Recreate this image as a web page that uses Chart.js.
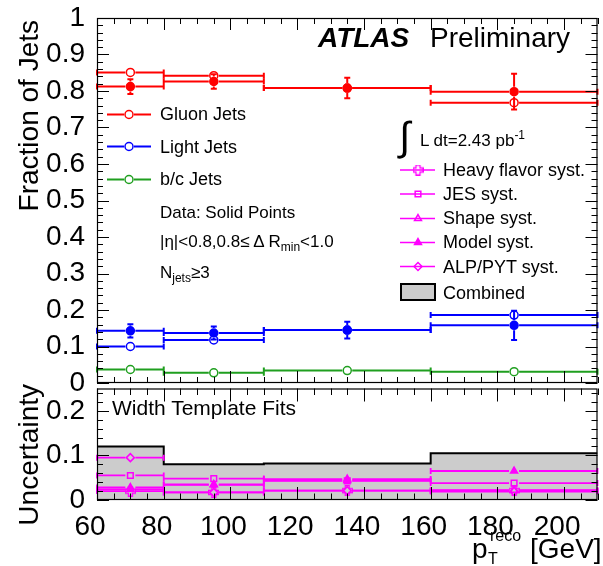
<!DOCTYPE html>
<html>
<head>
<meta charset="utf-8">
<script src="https://cdn.jsdelivr.net/npm/chart.js@4/dist/chart.umd.min.js"></script>
<style>
  body { margin: 0; background: #fff; }
  #wrap { position: relative; width: 603px; height: 566px; overflow: hidden; font-family: 'Liberation Sans', Arial, sans-serif; color: #000; }
  canvas { position: absolute; left: 0; }
  #top { top: 0; }
  #bottom { top: 383px; }
  .t { position: absolute; white-space: nowrap; line-height: 1; }
  .s18 { font-size: 18px; line-height: 18px; }
  .rot { transform-origin: 0 0; transform: rotate(-90deg); width: 220px; text-align: right; font-size: 28px; line-height: 28px; }
  sub, sup { font-size: 12px; line-height: 0; }
</style>
</head>
<body>
<div id="wrap">
  <canvas id="top" width="603" height="400"></canvas>
  <canvas id="bottom" width="603" height="183"></canvas>

  <div class="t rot" style="left:15px;top:240px">Fraction of Jets</div>
  <div class="t rot" style="left:15px;top:604px">Uncertainty</div>

  <div class="t" style="left:318px;top:24px;font:italic bold 28px 'Liberation Sans';line-height:28px">ATLAS</div>
  <div class="t" style="left:430px;top:24px;font-size:28px;line-height:28px">Preliminary</div>

  <div class="t s18" style="left:160px;top:105px">Gluon Jets</div>
  <div class="t s18" style="left:160px;top:138px">Light Jets</div>
  <div class="t s18" style="left:160px;top:170px">b/c Jets</div>
  <div class="t" style="left:160px;top:204px;font-size:17px;line-height:17px">Data: Solid Points</div>
  <div class="t" style="left:160px;top:233px;font-size:17px;line-height:17px">|η|&lt;0.8,0.8≤ Δ R<sub>min</sub>&lt;1.0</div>
  <div class="t" style="left:160px;top:264px;font-size:17px;line-height:17px">N<sub>jets</sub>≥3</div>

  <div class="t" style="left:399px;top:116px;font-size:40px;line-height:40px">∫</div>
  <div class="t" style="left:420px;top:132px;font-size:17px;line-height:17px">L dt=2.43 pb<sup>-1</sup></div>
  <div class="t s18" style="left:443px;top:161px">Heavy flavor syst.</div>
  <div class="t s18" style="left:443px;top:185px">JES syst.</div>
  <div class="t s18" style="left:443px;top:209px">Shape syst.</div>
  <div class="t s18" style="left:443px;top:233px">Model syst.</div>
  <div class="t s18" style="left:443px;top:258px">ALP/PYT syst.</div>
  <div class="t s18" style="left:443px;top:284px">Combined</div>

  <div class="t" style="left:112px;top:397px;font-size:21px;line-height:21px">Width Template Fits</div>

  <div class="t" style="left:472px;top:535px;font-size:28px;line-height:28px">p</div>
  <div class="t" style="left:490px;top:528px;font-size:16px;line-height:16px">reco</div>
  <div class="t" style="left:488px;top:551px;font-size:16px;line-height:16px">T</div>
  <div class="t" style="left:530px;top:535px;font-size:28px;line-height:28px">[GeV]</div>
</div>
<script>
// pT bins
var binLow = [60, 80, 110, 160];
var binHigh = [80, 110, 160, 210];
var binCentre = [70, 95, 135, 185];

// fractions, solid = data, open = MC
var gluonData = [0.812, 0.826, 0.808, 0.798];
var gluonDataErr = [0.02, 0.02, 0.028, 0.049];
var gluonMC = [0.851, 0.842, 0.808, 0.768];
var lightData = [0.143, 0.137, 0.145, 0.158];
var lightDataErr = [0.018, 0.018, 0.023, 0.04];
var lightMC = [0.100, 0.118, 0.145, 0.186];
var bcMC = [0.037, 0.028, 0.034, 0.031];

// uncertainties (bottom pad)
var heavyFlavorSyst = [0.020, 0.017, 0.021, 0.021];
var jesSyst = [0.055, 0.048, 0.043, 0.038];
var shapeSyst = [0.028, 0.035, 0.047, 0.022];
var modelSyst = [0.024, 0.034, 0.044, 0.065];
var alpPytSyst = [0.095, 0.017, 0.021, 0.019];
var combinedSyst = [0.120, 0.080, 0.082, 0.105];

var RED = '#ff0000', BLUE = '#0000ff', GREEN = '#1f9f1f', MAG = '#ff00ff';

Chart.defaults.font.family = "'Liberation Sans', Arial, sans-serif";
Chart.defaults.color = '#000';

// open cross marker (ROOT style 28)
function openCross(col) {
  var c = document.createElement('canvas');
  c.width = 11; c.height = 11;
  var g = c.getContext('2d');
  g.strokeStyle = col; g.lineWidth = 1.3;
  g.beginPath();
  var p = [[3.5,0.5],[7.5,0.5],[7.5,3.5],[10.5,3.5],[10.5,7.5],[7.5,7.5],[7.5,10.5],[3.5,10.5],[3.5,7.5],[0.5,7.5],[0.5,3.5],[3.5,3.5]];
  g.moveTo(p[0][0], p[0][1]);
  p.forEach(function(q){ g.lineTo(q[0], q[1]); });
  g.closePath(); g.stroke();
  return c;
}
var crossMarker = openCross(MAG);

function series(values, col, filled, style, errs, width, order) {
  return {
    data: binCentre.map(function(x, i){ return {x: x, y: values[i]}; }),
    pointStyle: style,
    pointRadius: 4, pointHoverRadius: 4,
    borderColor: col,
    backgroundColor: filled ? col : 'rgba(0,0,0,0)',
    pointBorderWidth: 1.5,
    binned: true, errY: errs, barWidth: width, order: order
  };
}

// horizontal bin bars + vertical stat errors, drawn through the scales
var errorBars = {
  id: 'errorBars',
  afterDatasetDraw: function(chart, args) {
    var ds = chart.data.datasets[args.index];
    if (!ds.binned) return;
    var ctx = chart.ctx, xs = chart.scales.x, ys = chart.scales.y;
    var r = ds.pointRadius + 1;
    ctx.save();
    ctx.strokeStyle = ds.borderColor;
    ctx.lineWidth = ds.barWidth;
    ctx.beginPath();
    args.meta.data.forEach(function(pt, i){
      var x0 = xs.getPixelForValue(binLow[i]), x1 = xs.getPixelForValue(binHigh[i]);
      var y = pt.y;
      ctx.moveTo(x0, y); ctx.lineTo(pt.x - r, y);
      ctx.moveTo(pt.x + r, y); ctx.lineTo(x1, y);
      ctx.moveTo(x0, y - 3); ctx.lineTo(x0, y + 3);
      ctx.moveTo(x1, y - 3); ctx.lineTo(x1, y + 3);
      if (ds.errY) {
        var yt = ys.getPixelForValue(ds.data[i].y + ds.errY[i]);
        var yb = ys.getPixelForValue(ds.data[i].y - ds.errY[i]);
        ctx.moveTo(pt.x, yt); ctx.lineTo(pt.x, y - r);
        ctx.moveTo(pt.x, y + r); ctx.lineTo(pt.x, yb);
        ctx.moveTo(pt.x - 3, yt); ctx.lineTo(pt.x + 3, yt);
        ctx.moveTo(pt.x - 3, yb); ctx.lineTo(pt.x + 3, yb);
      }
    });
    ctx.stroke();
    ctx.restore();
  }
};

// frame with inward ticks on all four sides
var frameTicks = {
  id: 'frameTicks',
  afterDraw: function(chart, args, o) {
    var ctx = chart.ctx, a = chart.chartArea, xs = chart.scales.x, ys = chart.scales.y;
    ctx.save();
    ctx.strokeStyle = '#000'; ctx.lineWidth = 1;
    ctx.beginPath();
    var v, k, px, len;
    for (k = 0; xs.min + k * o.xMinor <= xs.max + 1e-9; k++) {
      v = xs.min + k * o.xMinor;
      px = Math.round(xs.getPixelForValue(v)) + 0.5;
      len = (k % o.xEvery === 0) ? o.xLen : o.xLen / 2;
      ctx.moveTo(px, a.bottom); ctx.lineTo(px, a.bottom - len);
      ctx.moveTo(px, a.top); ctx.lineTo(px, a.top + len);
    }
    for (k = 0; ys.min + k * o.yMinor <= ys.max + 1e-9; k++) {
      v = ys.min + k * o.yMinor;
      px = Math.round(ys.getPixelForValue(v)) + 0.5;
      len = (k % o.yEvery === 0) ? o.yLen : o.yLen / 2;
      ctx.moveTo(a.left, px); ctx.lineTo(a.left + len, px);
      ctx.moveTo(a.right, px); ctx.lineTo(a.right - len, px);
    }
    ctx.stroke();
    ctx.lineWidth = 1.2;
    ctx.strokeRect(a.left + 0.5, a.top + 0.5, a.right - a.left - 1, a.bottom - a.top - 1);
    ctx.restore();
  }
};

// legend symbols (text is in the page)
function mark(ctx, style, col, filled, x, y) {
  ctx.save();
  ctx.strokeStyle = col; ctx.fillStyle = filled ? col : 'rgba(0,0,0,0)';
  ctx.lineWidth = 1.5;
  Chart.helpers.drawPoint(ctx, {pointStyle: style, radius: 4, borderWidth: 1.5, rotation: 0}, x, y);
  ctx.restore();
}
var legendMarks = {
  id: 'legendMarks',
  afterDraw: function(chart) {
    var ctx = chart.ctx;
    ctx.save();
    [[RED, 114.5], [BLUE, 146.5], [GREEN, 179.5]].forEach(function(e){
      ctx.strokeStyle = e[0]; ctx.lineWidth = 2;
      ctx.beginPath(); ctx.moveTo(107, e[1]); ctx.lineTo(124, e[1]); ctx.moveTo(134, e[1]); ctx.lineTo(151, e[1]); ctx.stroke();
      mark(ctx, 'circle', e[0], false, 129, e[1]);
    });
    [[crossMarker, false, 170], ['rect', false, 194], ['triangle', false, 218.5], ['triangle', true, 242.5], ['rectRot', false, 266.5]].forEach(function(e){
      ctx.strokeStyle = MAG; ctx.lineWidth = 1.5;
      ctx.beginPath(); ctx.moveTo(400, e[2]); ctx.lineTo(435, e[2]); ctx.stroke();
      mark(ctx, e[0], MAG, e[1], 418, e[2]);
    });
    ctx.fillStyle = '#cccccc'; ctx.strokeStyle = '#000'; ctx.lineWidth = 2;
    ctx.fillRect(401, 284, 34, 16); ctx.strokeRect(401, 284, 34, 16);
    ctx.restore();
  }
};

function fixWidth(w) { return function(s){ s.width = w; s.paddingTop = 0; s.paddingBottom = 0; }; }
function shortLabel(v) { return String(Math.round(v * 10) / 10); }

new Chart(document.getElementById('top'), {
  type: 'scatter',
  data: {
    datasets: [
      series(gluonData, RED, true, 'circle', gluonDataErr, 2, 1),
      series(lightData, BLUE, true, 'circle', lightDataErr, 2, 1),
      series(gluonMC, RED, false, 'circle', null, 2, 2),
      series(lightMC, BLUE, false, 'circle', null, 2, 2),
      series(bcMC, GREEN, false, 'circle', null, 2, 2)
    ]
  },
  options: {
    responsive: false, animation: false, events: [],
    layout: { padding: { left: 0, right: 2, top: 18, bottom: 17 } },
    plugins: { legend: { display: false }, tooltip: { enabled: false },
      frameTicks: { xMinor: 5, xEvery: 4, xLen: 12, yMinor: 0.02, yEvery: 5, yLen: 12 } },
    scales: {
      x: { type: 'linear', min: 60, max: 210, display: false },
      y: { min: 0, max: 1, afterFit: fixWidth(97),
        grid: { display: false }, border: { display: false },
        ticks: { stepSize: 0.1, autoSkip: false, padding: 4, font: { size: 28 }, callback: shortLabel } }
    }
  },
  plugins: [errorBars, frameTicks, legendMarks]
});

var stepData = binLow.map(function(x, i){ return {x: x, y: combinedSyst[i]}; });
stepData.push({x: binHigh[binHigh.length - 1], y: combinedSyst[combinedSyst.length - 1]});

new Chart(document.getElementById('bottom'), {
  type: 'scatter',
  data: {
    datasets: [
      { type: 'line', data: stepData, stepped: 'before', fill: 'origin',
        backgroundColor: '#cccccc', borderColor: '#000', borderWidth: 2, pointRadius: 0, order: 10 },
      series(alpPytSyst, MAG, false, 'rectRot', null, 1.8, 1),
      series(jesSyst, MAG, false, 'rect', null, 1.8, 1),
      series(shapeSyst, MAG, false, 'triangle', null, 1.8, 1),
      series(modelSyst, MAG, true, 'triangle', null, 1.8, 1),
      series(heavyFlavorSyst, MAG, false, crossMarker, null, 1.8, 1)
    ]
  },
  options: {
    responsive: false, animation: false, events: [],
    layout: { padding: { left: 0, right: 2, top: 0, bottom: 0 } },
    plugins: { legend: { display: false }, tooltip: { enabled: false },
      frameTicks: { xMinor: 5, xEvery: 4, xLen: 13, yMinor: 0.02, yEvery: 5, yLen: 12 } },
    scales: {
      x: { type: 'linear', min: 60, max: 210,
        afterFit: function(s){ s.height = 66; s.paddingLeft = 0; s.paddingRight = 0; },
        grid: { display: false }, border: { display: false },
        ticks: { stepSize: 20, includeBounds: false, autoSkip: false, maxRotation: 0,
          padding: 2, labelOffset: -7, font: { size: 28 } } },
      y: { min: 0, max: 0.25, afterFit: fixWidth(97),
        grid: { display: false }, border: { display: false },
        ticks: { stepSize: 0.1, includeBounds: false, autoSkip: false, padding: 4, font: { size: 28 }, callback: shortLabel } }
    }
  },
  plugins: [errorBars, frameTicks]
});
</script>
</body>
</html>
